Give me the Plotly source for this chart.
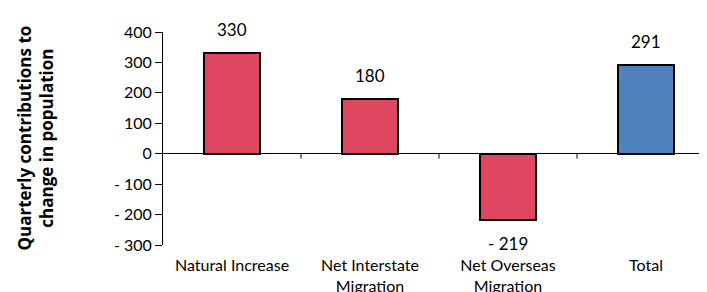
import plotly.graph_objects as go

categories = ["Natural Increase", "Net Interstate<br>Migration", "Net Overseas<br>Migration", "Total"]
values = [330, 180, -219, 291]
value_labels = ["330", "180", "- 219", "291"]
bar_colors = ["#DF4761", "#DF4761", "#DF4761", "#4F81BD"]
y_tickvals = [-300, -200, -100, 0, 100, 200, 300, 400]
y_ticktext = ["- 300", "- 200", "- 100", "0", "100", "200", "300", "400"]

# page body adds an 8px offset; margins compensate
W, H = 707, 292
ml, mr, mt, mb = 155, 0, 24, 55
xpos = list(range(len(categories)))

fig = go.Figure()
fig.add_trace(go.Bar(
    x=xpos, y=values, width=0.4,
    marker=dict(color=bar_colors, line=dict(color="black", width=2)),
    hoverinfo="skip",
))

for xi, v, t in zip(xpos, values, value_labels):
    fig.add_annotation(
        x=xi, y=v, text=t, showarrow=False,
        yanchor="bottom" if v >= 0 else "top",
        yshift=11 if v >= 0 else -11,
        font=dict(family="Lato", size=17, color="black"),
    )

# category boundary ticks on zero line
for b in [0.5, 1.5, 2.5]:
    fig.add_shape(type="line", xref="x", yref="y", x0=b, x1=b, y0=0, y1=-5,
                  ysizemode="pixel", yanchor=0, line=dict(color="black", width=1))

fig.add_annotation(
    xref="paper", yref="paper", x=(27 - ml) / (W - ml - mr), y=0.5,
    text="<b>Quarterly contributions to<br>change in population</b>",
    textangle=-90, showarrow=False, xanchor="center", yanchor="middle",
    font=dict(family="Open Sans", size=17, color="black"),
)

fig.update_layout(
    width=W, height=H,
    margin=dict(l=ml, r=mr, t=mt, b=mb, pad=0, autoexpand=False),
    paper_bgcolor="white", plot_bgcolor="white",
    showlegend=False,
    font=dict(family="Lato", size=16, color="black"),
    bargap=0,
)
fig.update_xaxes(
    range=[-0.5, 3.5], tickvals=xpos, ticktext=categories,
    showline=False, showgrid=False, zeroline=False, ticks="",
    ticklabelstandoff=9, automargin=False,
    tickfont=dict(family="Lato", size=16, color="black"),
    fixedrange=True,
)
fig.update_yaxes(
    range=[-300, 400], tickvals=y_tickvals, ticktext=y_ticktext,
    showline=True, linecolor="black", linewidth=1,
    ticks="outside", ticklen=7, tickcolor="black",
    showgrid=False, zeroline=True, zerolinecolor="black", zerolinewidth=1,
    automargin=False,
    tickfont=dict(family="Lato", size=16, color="black"),
    fixedrange=True,
)

fig.write_html("out.html")
